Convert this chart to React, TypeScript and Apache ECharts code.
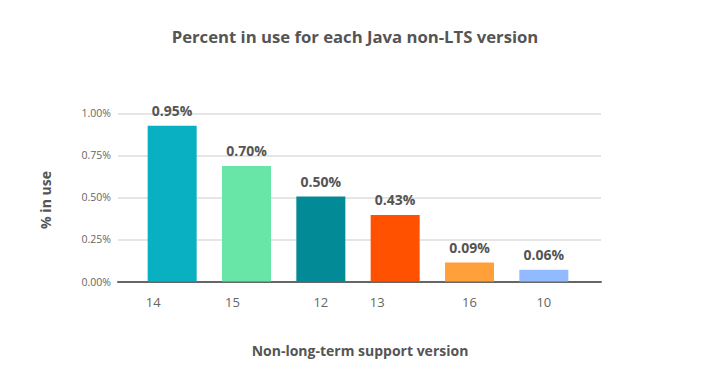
import React, { useEffect, useRef } from "react";
import * as echarts from "echarts";

const categories = ["14", "15", "12", "13", "16", "10"];
const values = [0.926, 0.687, 0.505, 0.396, 0.113, 0.07];
const valueLabels = ["0.95%", "0.70%", "0.50%", "0.43%", "0.09%", "0.06%"];
const barColors = ["#09B0C2", "#67E6A8", "#028A96", "#FF5100", "#FFA03A", "#91BBFE"];
const labelShift = [-19, -14, 0, -18, 0, 0];

const FONT = "'Open Sans', 'Noto Sans', sans-serif";

export default function App() {
  const ref = useRef<HTMLDivElement>(null);
  useEffect(() => {
    if (!ref.current) return;
    const chart = echarts.init(ref.current, undefined, { renderer: "svg" });
    chart.setOption({
      animation: false,
      backgroundColor: "#ffffff",
      textStyle: { fontFamily: FONT },
      grid: [
        { left: 118, right: 100, top: 113.3, bottom: 95.5 },
        { left: 135, right: 120, top: 113.3, bottom: 95.5 },
      ],
      xAxis: [
        {
          type: "value",
          gridIndex: 0,
          min: 0,
          max: 1,
          axisLine: { show: true, onZero: false, lineStyle: { color: "#666666", width: 2 } },
          axisTick: { show: false },
          axisLabel: { show: false },
          splitLine: { show: false },
        },
        {
          type: "category",
          gridIndex: 1,
          data: categories.map((c, i) => ({
            value: c,
            textStyle: {
              padding: labelShift[i] < 0 ? [0, -2 * labelShift[i], 0, 0] : 0,
            },
          })),
          axisLine: { show: false },
          axisTick: { show: false },
          axisLabel: { color: "#666666", fontSize: 13, margin: 14, fontFamily: FONT },
        },
      ],
      yAxis: [
        {
          type: "value",
          gridIndex: 0,
          min: 0,
          max: 1,
          interval: 0.25,
          axisLine: { show: false },
          axisTick: { show: false },
          axisLabel: {
            color: "#666666",
            fontSize: 10.5,
            margin: 7,
            fontFamily: FONT,
            formatter: (v: number) => v.toFixed(2) + "%",
          },
          splitLine: { lineStyle: { color: "#dcdcdc", width: 1.5 } },
        },
        {
          type: "value",
          gridIndex: 1,
          min: 0,
          max: 1,
          show: false,
        },
      ],
      series: [
        {
          type: "bar",
          xAxisIndex: 1,
          yAxisIndex: 1,
          barWidth: 49,
          data: values.map((v, i) => ({ value: v, itemStyle: { color: barColors[i] } })),
          label: {
            show: true,
            position: "top",
            distance: 8,
            color: "#555555",
            fontSize: 14,
            fontWeight: "bold",
            fontFamily: FONT,
            formatter: (p: any) => valueLabels[p.dataIndex],
          },
        },
      ],
      graphic: [
        {
          type: "text",
          x: 355,
          y: 36,
          style: {
            text: "Percent in use for each Java non-LTS version",
            fill: "#555555",
            font: `bold 16.7px ${FONT}`,
            align: "center",
            verticalAlign: "middle",
          },
        },
        {
          type: "text",
          x: 45,
          y: 200,
          rotation: Math.PI / 2,
          style: {
            text: "% in use",
            fill: "#555555",
            font: `bold 14px ${FONT}`,
            align: "center",
            verticalAlign: "middle",
          },
        },
        {
          type: "text",
          x: 360,
          y: 350,
          style: {
            text: "Non-long-term support version",
            fill: "#555555",
            font: `bold 14px ${FONT}`,
            align: "center",
            verticalAlign: "middle",
          },
        },
      ],
    });
    return () => chart.dispose();
  }, []);
  return (
    <div
      ref={ref}
      style={{ position: "absolute", left: 0, top: 0, width: 701, height: 377 }}
    />
  );
}
